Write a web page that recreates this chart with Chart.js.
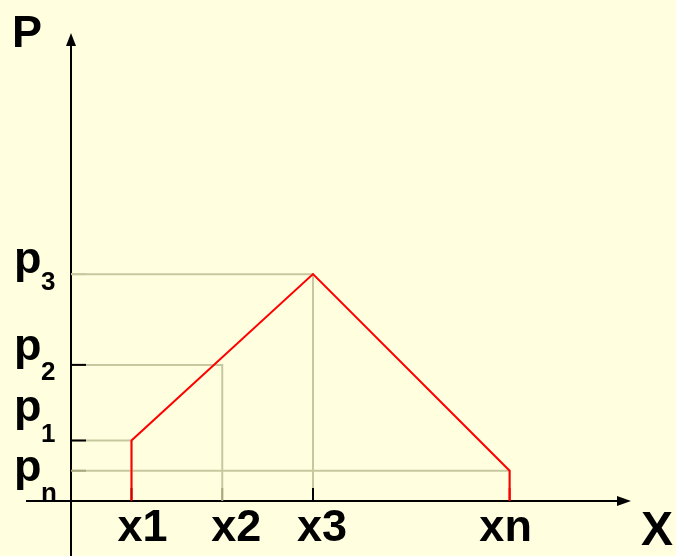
<!DOCTYPE html>
<html>
<head>
<meta charset="utf-8">
<script src="https://cdn.jsdelivr.net/npm/chart.js@4/dist/chart.umd.min.js"></script>
<style>
  html, body { margin: 0; padding: 0; background: #FFFFE0; }
  canvas { display: block; }
</style>
</head>
<body>
<canvas id="mycanvas" width="676" height="556"></canvas>
<script>
// points on the x axis and their P values
var xNames = ['x1', 'x2', 'x3', 'xn'];
var xVals = [1, 2.5, 4, 7.25];
var pNames = ['1', '2', '3', 'n'];
var pVals = [2, 4.5, 7.5, 1];
// indexes of the points the red polyline goes through
var redIdx = [0, 2, 3];

// label placement (pixels, relative to the tick)
var pBaseOff = [-20, -5, -1, 10];
var pSubOff = [1, 15, 16, 30];
var xLabelOff = [11, 14, 9, -4];

var pxPerX = 60.5, pxPerY = 30.25;
var originX = 71, originY = 501;

var redPath = [];
redPath.push({x: xVals[redIdx[0]], y: 0});
for (var i = 0; i < redIdx.length; i++) {
	redPath.push({x: xVals[redIdx[i]], y: pVals[redIdx[i]]});
}
redPath.push({x: xVals[redIdx[redIdx.length - 1]], y: 0});

var guideColor = '#C8C8A0';
var datasets = [{
	label: 'P',
	data: redPath,
	borderColor: '#FF0000',
	borderWidth: 2,
	pointRadius: 0,
	fill: false,
	order: 0
}];
for (var i = 0; i < xVals.length; i++) {
	datasets.push({
		label: 'guide ' + xNames[i],
		data: [{x: 0, y: pVals[i]}, {x: xVals[i], y: pVals[i]}, {x: xVals[i], y: 0}],
		borderColor: guideColor,
		borderWidth: 2,
		pointRadius: 0,
		fill: false,
		order: 1
	});
}

var font = '"Liberation Sans", Arial, sans-serif';

var axesPlugin = {
	id: 'axes',
	beforeDraw: function(chart) {
		var c = chart.ctx;
		c.save();
		c.fillStyle = '#FFFFE0';
		c.fillRect(0, 0, chart.width, chart.height);
		c.restore();
	},
	afterDraw: function(chart) {
		var c = chart.ctx;
		var sx = chart.scales.x, sy = chart.scales.y;
		var x0 = sx.getPixelForValue(0), y0 = sy.getPixelForValue(0);
		c.save();
		c.strokeStyle = '#000';
		c.fillStyle = '#000';
		c.lineWidth = 2;
		// y axis
		c.beginPath();
		c.moveTo(x0, chart.height);
		c.lineTo(x0, 44);
		c.stroke();
		c.beginPath();
		c.moveTo(x0, 33);
		c.lineTo(x0 - 5, 46);
		c.lineTo(x0 + 5, 46);
		c.closePath();
		c.fill();
		// x axis
		c.beginPath();
		c.moveTo(26, y0);
		c.lineTo(620, y0);
		c.stroke();
		c.beginPath();
		c.moveTo(631, y0);
		c.lineTo(617, y0 - 5);
		c.lineTo(617, y0 + 5);
		c.closePath();
		c.fill();

		// small ticks
		var yTickCol = ['#000', '#000', guideColor, '#A8A880'];
		for (var i = 0; i < pVals.length; i++) {
			var py = sy.getPixelForValue(pVals[i]);
			c.strokeStyle = yTickCol[i];
			c.beginPath();
			c.moveTo(x0, py);
			c.lineTo(x0 + 15, py);
			c.stroke();
		}
		var xTickCol = ['#D00000', '#A8A880', '#000', '#FF0000'];
		for (var i = 0; i < xVals.length; i++) {
			var px = sx.getPixelForValue(xVals[i]);
			c.strokeStyle = xTickCol[i];
			c.beginPath();
			c.moveTo(px, y0);
			c.lineTo(px, y0 - 13);
			c.stroke();
		}

		// labels
		c.fillStyle = '#000';
		c.textBaseline = 'alphabetic';
		c.textAlign = 'left';
		c.font = 'bold 45px ' + font;
		c.fillText('P', 12, 47);
		c.font = 'bold 48px ' + font;
		c.fillText('X', 641, 545);
		for (var i = 0; i < pVals.length; i++) {
			var py = sy.getPixelForValue(pVals[i]);
			c.textAlign = 'left';
			c.font = 'bold 45px ' + font;
			c.fillText('p', 14, py + pBaseOff[i]);
			c.font = 'bold 26px ' + font;
			c.fillText(pNames[i], 41, py + pSubOff[i]);
		}
		c.textAlign = 'center';
		c.font = 'bold 45px ' + font;
		for (var i = 0; i < xVals.length; i++) {
			var px = sx.getPixelForValue(xVals[i]);
			c.fillText(xNames[i], px + xLabelOff[i], 541);
		}
		c.restore();
	}
};

var ctx = document.getElementById('mycanvas');
var chart = new Chart(ctx, {
	type: 'scatter',
	data: { datasets: datasets },
	options: {
		responsive: false,
		animation: false,
		showLine: true,
		layout: { padding: 0 },
		plugins: {
			legend: { display: false },
			tooltip: { enabled: false }
		},
		scales: {
			x: {
				type: 'linear',
				display: false,
				min: -originX / pxPerX,
				max: (676 - originX) / pxPerX
			},
			y: {
				type: 'linear',
				display: false,
				min: -(556 - originY) / pxPerY,
				max: originY / pxPerY
			}
		}
	},
	plugins: [axesPlugin]
});
</script>
</body>
</html>
